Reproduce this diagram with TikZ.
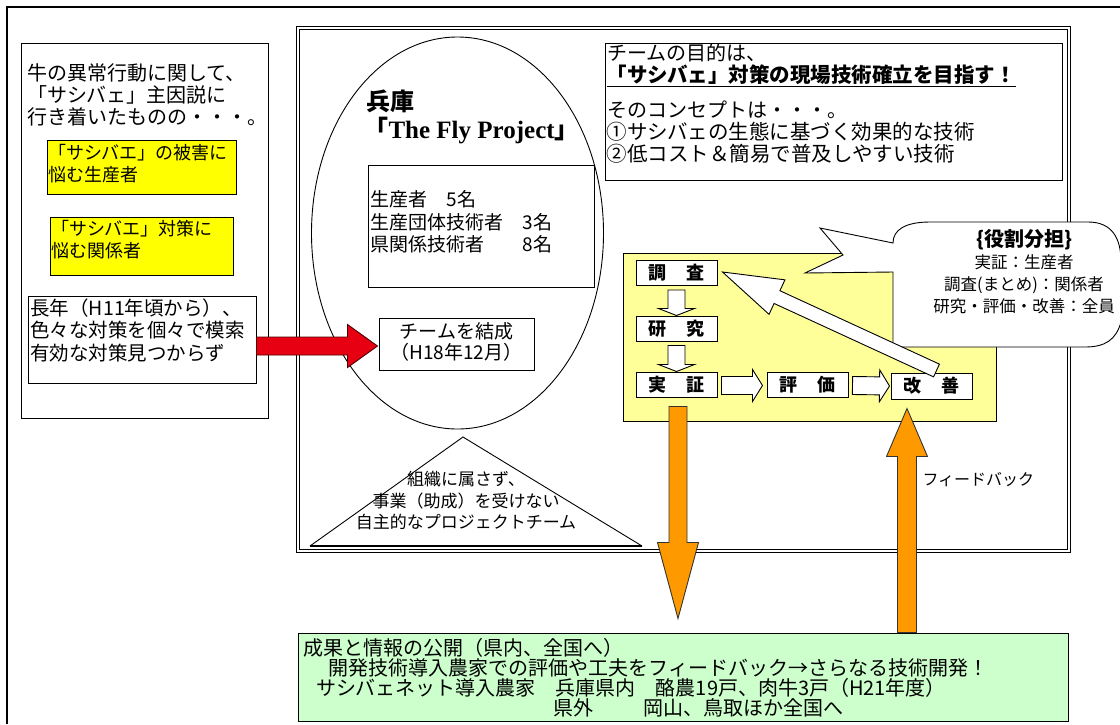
\documentclass[tikz,border=0pt]{standalone}
\usepackage{fontspec}
\setmainfont{Noto Sans CJK JP}
\newfontfamily\serifb{Liberation Serif}
\usetikzlibrary{calc,shapes.geometric}
\definecolor{ylw}{HTML}{FFFF00}
\definecolor{lyel}{HTML}{FFFF99}
\definecolor{lgrn}{HTML}{CCFFCC}
\definecolor{orng}{HTML}{FF9900}
\definecolor{redar}{HTML}{E60012}
\newcommand\fsz[2]{\fontsize{#1}{#2}\selectfont}
% #1 style, #2 name, #3 from, #4 to, #5 shaft half width, #6 head half width, #7 head length
\newcommand\blockarrow[7][]{%
  \coordinate (#2n) at ($(#4)!#7!(#3)$);
  \draw[#1] ($(#3)!#5!90:(#4)$) -- ($(#2n)!#5!90:(#4)$) -- ($(#2n)!#6!90:(#4)$) -- (#4)
    -- ($(#2n)!#6!-90:(#4)$) -- ($(#2n)!#5!-90:(#4)$) -- ($(#3)!#5!-90:(#4)$) -- cycle;
}
\begin{document}
\begin{tikzpicture}[x=1pt,y=-1pt,line width=1pt,
  rbox/.style={draw=black,line width=1pt,inner sep=0pt},
  txt/.style={inner sep=0pt,anchor=west,align=left},
  ctxt/.style={inner sep=0pt,align=center},
  pbox/.style={draw=black,fill=white,line width=1pt,minimum width=81pt,minimum height=25pt,inner sep=0pt,font=\fsz{18}{20}\bfseries},
  hollow/.style={draw=black,fill=white,line width=0.9pt,line join=miter},
  solid arrow/.style={draw=black!70!red,line width=0.9pt,line join=miter}
]
\useasboundingbox (0,0) rectangle (1120,724);
\fill[white] (0,0) rectangle (1120,724);
% outer frame (clipped at right and bottom)
\draw[line width=1.4pt] (7,724) -- (7,7) -- (1120,7);

% ---------- left column ----------
\node[rbox,minimum width=247pt,minimum height=375pt] (leftbox) at (144.5,230.5) {};
\node[txt,font=\fsz{20}{22}] (lt) at (27,95) {牛の異常行動に関して、\\「サシバェ」主因説に\\行き着いたものの・・・。};
\node[rbox,fill=ylw,minimum width=189pt,minimum height=54pt] (y1) at (141.5,167) {};
\node[txt,font=\fsz{18}{22}] (y1t) at (48,163.5) {「サシバエ」の被害に\\悩む生産者};
\node[rbox,fill=ylw,minimum width=183pt,minimum height=58pt] (y2) at (141.5,246) {};
\node[txt,font=\fsz{18}{22}] (y2t) at (51,240) {「サシバエ」対策に\\悩む関係者};
\node[rbox,fill=white,minimum width=228pt,minimum height=87pt] (white) at (142,339.5) {};
\node[txt,font=\fsz{19.5}{22.5}] (wt) at (30,330) {長年（H11年頃から）、\\色々な対策を個々で模索\\有効な対策見つからず};

% ---------- main frame ----------
\node[draw=black,double,double distance=2pt,line width=0.8pt,minimum width=771pt,minimum height=523pt,inner sep=0pt] (frame) at (683.5,289.5) {};

% ellipse
\node[draw=black,ellipse,line width=0.9pt,minimum width=292pt,minimum height=392pt,inner sep=0pt] (ell) at (457.5,233) {};
\node[txt,font=\fsz{24}{26}\bfseries] (hyogo) at (366,101) {兵庫};
\node[txt,font=\fsz{25}{27}\bfseries] (tfp) at (363,131) {「{\serifb The Fly Project}」};
\node[rbox,minimum width=226pt,minimum height=122pt] (members) at (481,226) {};
\node[txt,font=\fsz{19}{22.5}] (memt) at (370,222) {生産者　5名\\生産団体技術者　3名\\県関係技術者　　8名};
\node[rbox,minimum width=155pt,minimum height=52pt] (team) at (456.5,344) {};
\node[ctxt,font=\fsz{19}{21}] (teamt) at (456.5,342) {チームを結成\\（H18年12月）};

% triangle
\coordinate (t1) at (463,437);
\coordinate (t2) at (310,546);
\coordinate (t3) at (642,546);
\draw[line width=0.9pt] (t2) -- (t1) -- (t3);
\draw[line width=2.2pt] (t2) -- (t3);
\node[ctxt,font=\fsz{17}{21.5}] (trit) at (466,501) {組織に属さず、\\事業（助成）を受けない\\自主的なプロジェクトチーム};

% top right text box
\node[rbox,minimum width=457pt,minimum height=137pt] (goal) at (833.5,111.5) {};
\node[txt,font=\fsz{20}{22}] (g1) at (607,53) {チームの目的は、};
\node[txt,font=\fsz{20.5}{22}\bfseries] (g2) at (606,76) {\underline{「サシバェ」対策の現場技術確立を目指す！}};
\node[txt,font=\fsz{20}{22}] (g3) at (607,110) {そのコンセプトは・・・。};
\node[txt,font=\fsz{20.5}{22}] (g4) at (606,132) {①サシバェの生態に基づく効果的な技術};
\node[txt,font=\fsz{20.5}{22}] (g5) at (606,154) {②低コスト＆簡易で普及しやすい技術};

% process box
\node[rbox,fill=lyel,minimum width=373pt,minimum height=168pt] (proc) at (809.5,337) {};
\node[pbox] (chosa) at (676.5,273) {調\hspace{20pt}査};
\node[pbox] (kenkyu) at (676.5,328.5) {研\hspace{20pt}究};
\node[pbox] (jissho) at (676.5,384.5) {実\hspace{20pt}証};
\node[pbox] (hyoka) at (807.5,384.5) {評\hspace{20pt}価};
\node[pbox,minimum height=26pt] (kaizen) at (931.5,386) {改\hspace{20pt}善};

\coordinate (a1s) at ($(chosa.south)+(0,4)$);
\blockarrow[hollow]{a1}{a1s}{kenkyu.north}{8.5pt}{18pt}{7pt}
\coordinate (a2s) at ($(kenkyu.south)+(0,4)$);
\blockarrow[hollow]{a2}{a2s}{jissho.north}{8.5pt}{18pt}{7pt}
\coordinate (a3s) at ($(jissho.east)+(4,1)$);
\coordinate (a3e) at ($(hyoka.west)+(-4,1)$);
\blockarrow[hollow]{a3}{a3s}{a3e}{9pt}{16pt}{10pt}
\coordinate (a4s) at ($(hyoka.east)+(4,1)$);
\coordinate (a4e) at ($(kaizen.west)+(-1,0)$);
\blockarrow[hollow]{a4}{a4s}{a4e}{9pt}{16pt}{10pt}

% callout
\draw[fill=white,line width=0.9pt,line join=miter] (893,347) -- (893,272) -- (805,273) -- (843,255) -- (820,228) -- (893,243)
  .. controls (893,230) and (905,222) .. (930,222) -- (1088,222)
  .. controls (1112,222) and (1121,238) .. (1121,262) -- (1121,322)
  .. controls (1116,340) and (1105,347) .. (1085,347) -- cycle;
\node[ctxt,font=\fsz{20}{22}\bfseries] (role) at (1024,240) {\{役割分担\}};
\node[ctxt,font=\fsz{16.5}{22}] (rolet) at (1024,284) {実証：生産者\\調査(まとめ)：関係者\\研究・評価・改善：全員};

% feedback hollow arrow
\coordinate (fbs) at ($(kaizen.north)+(5,-2)$);
\coordinate (fbe) at ($(chosa.east)+(5,-1)$);
\blockarrow[hollow]{fb}{fbs}{fbe}{7pt}{19pt}{60pt}

% red arrow
\coordinate (ras) at ($(white.east)+(0,6.5)$);
\coordinate (rae) at ($(team.west)+(-1,2)$);
\blockarrow[solid arrow,fill=redar]{ra}{ras}{rae}{9pt}{21.5pt}{30pt}

% bottom green box
\node[rbox,fill=lgrn,minimum width=770pt,minimum height=88pt] (green) at (683,677) {};
\node[txt,font=\fsz{20}{20}] (gr1) at (303,648) {成果と情報の公開（県内、全国へ）};
\node[txt,font=\fsz{20}{20}] (gr2) at (328,668) {開発技術導入農家での評価や工夫をフィードバック→さらなる技術開発！};
\node[txt,font=\fsz{20}{20}] (gr3) at (316,688) {サシバェネット導入農家　兵庫県内　酪農19戸、肉牛3戸（H21年度）};
\node[txt,font=\fsz{20}{20}] (gr4) at (553,708) {県外\hspace{50pt}岡山、鳥取ほか全国へ};

% orange arrows
\coordinate (dx) at ($(jissho.south)+(1.5,9)$);
\coordinate (db) at ($(dx |- green.north)+(0,-14)$);
\blockarrow[solid arrow,fill=orng,draw=black!80]{od}{dx}{db}{9pt}{20.5pt}{76pt}
\coordinate (ux) at ($(kaizen.south)+(-24.5,9)$);
\coordinate (ub) at (ux |- green.north);
\blockarrow[solid arrow,fill=orng,draw=black!80]{ou}{ub}{ux}{9.5pt}{20.5pt}{48pt}
\node[txt,font=\fsz{16}{18}] (fbtxt) at (922,480) {フィードバック};
\end{tikzpicture}
\end{document}
